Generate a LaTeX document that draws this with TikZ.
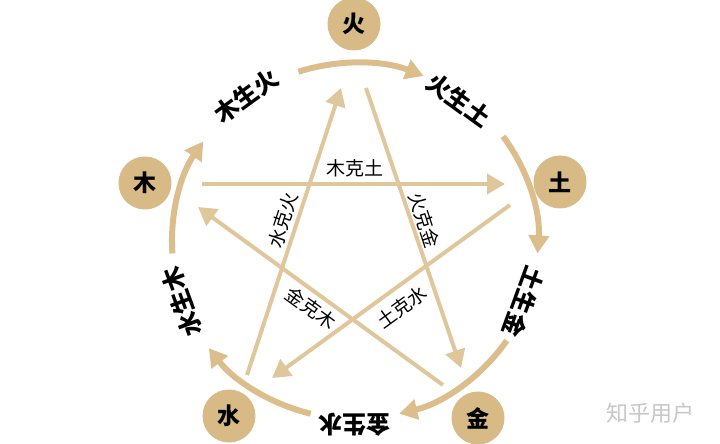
\documentclass[tikz,border=0pt]{standalone}
\usepackage{fontspec}
\newfontfamily\cjk{Noto Sans CJK SC}
\usetikzlibrary{arrows.meta}
\definecolor{tan}{RGB}{219,190,140}
\definecolor{elemfill}{RGB}{216,186,134}
\definecolor{starline}{RGB}{224,199,155}
\tikzset{
    elem/.style={circle, fill=elemfill, minimum size=53pt, inner sep=0pt, font=\cjk\bfseries\fontsize{23pt}{23pt}\selectfont},
    shengtext/.style={font=\cjk\bfseries\fontsize{24pt}{24pt}\selectfont},
    ketext/.style={font=\cjk\fontsize{19pt}{19pt}\selectfont},
    arcline/.style={draw=tan, line width=6pt, -{Triangle[length=18pt,width=20pt]}},
    kearrow/.style={draw=starline, line width=4pt, -{Triangle[length=18pt,width=20pt]}}
}
\begin{document}
\begin{tikzpicture}[x=1pt, y=1pt]
    \useasboundingbox (-355,-203) rectangle (365,241);

    %Element circles
    \node[elem] (huo) at (-1,217) {火};
    \node[elem] (mu) at (-210,58) {木};
    \node[elem] (tu) at (205,59) {土};
    \node[elem] (shui) at (-126,-175) {水};
    \node[elem] (jin) at (123,-177) {金};

    %Outer arcs
    \draw[arcline] (184:183 and 178) arc[start angle=184, end angle=146, x radius=183, y radius=178];
    \draw[arcline] (108:183 and 178) arc[start angle=108, end angle=68, x radius=183, y radius=178];
    \draw[arcline] (36:183 and 178) arc[start angle=36, end angle=-4, x radius=183, y radius=178];
    \draw[arcline] (-34:183 and 178) arc[start angle=-34, end angle=-76, x radius=183, y radius=178];
    \draw[arcline] (256:183 and 178) arc[start angle=256, end angle=217, x radius=183, y radius=178];

    %Sheng labels
    \node[shengtext, rotate=36] (musheng) at (-109,145) {木生火};
    \node[shengtext, rotate=-36] (huosheng) at (104,141) {火生土};
    \node[shengtext, rotate=-110] (tusheng) at (169,-61) {土生金};
    \node[shengtext, rotate=180] (jinsheng) at (0,-184) {金生水};
    \node[shengtext, rotate=110] (shuisheng) at (-173,-61) {水生木};

    %Star end points
    \coordinate (muA) at (-153,57);
    \coordinate (muB) at (150,57);
    \coordinate (tuA) at (155,36);
    \coordinate (tuB) at (-83,-137);
    \coordinate (shuiA) at (-108,-134);
    \coordinate (shuiB) at (-14,153);
    \coordinate (huoA) at (11,153);
    \coordinate (huoB) at (106,-127);
    \coordinate (jinA) at (88,-144);
    \coordinate (jinB) at (-157,34);

    %Star lines
    \draw[kearrow] (muA) -- (muB);
    \draw[kearrow] (tuA) -- (tuB);
    \draw[kearrow] (shuiA) -- (shuiB);
    \draw[kearrow] (huoA) -- (huoB);
    \draw[kearrow] (jinA) -- (jinB);

    %Ke labels
    \node[ketext] (muke) at (0,73) {木克土};
    \node[ketext, rotate=72] (shuike) at (-72,21) {水克火};
    \node[ketext, rotate=-72] (huoke) at (69,21) {火克金};
    \node[ketext, rotate=-36] (jinke) at (-44,-67) {金克木};
    \node[ketext, rotate=36] (tuke) at (47,-66) {土克水};

    %Watermark
    \node[font=\cjk\fontsize{22pt}{22pt}\selectfont, text=black!22] (mark) at (295,-172) {知乎用户};
\end{tikzpicture}
\end{document}
